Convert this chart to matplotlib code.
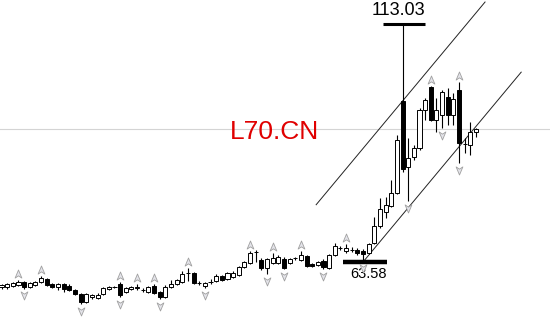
import matplotlib
matplotlib.use("Agg")
import matplotlib.pyplot as plt
import numpy as np
from matplotlib.patches import Rectangle
from matplotlib.path import Path

plt.rcParams["font.family"] = ["Liberation Sans", "DejaVu Sans"]

# daily OHLC
opens = [58.38, 58.38, 58.59, 58.80, 59.42, 58.38, 58.80, 59.42, 60.04, 59.00,
         58.38, 59.00, 58.59, 57.76, 56.93, 55.26, 56.30, 56.10, 56.93, 57.97,
         58.38, 59.00, 57.34, 57.97, 58.17, 57.76, 57.34, 58.59, 57.34, 56.30,
         58.38, 59.00, 59.42, 61.29, 61.29, 59.21, 58.59, 59.42, 59.63, 60.67,
         60.04, 60.46, 60.87, 62.54, 63.37, 65.65, 63.99, 62.33, 63.37, 63.37,
         64.20, 63.37, 64.41, 63.99, 64.82, 63.16, 62.95, 63.78, 62.33, 65.03,
         66.49, 65.86, 66.07, 66.07, 65.86, 65.45, 67.52, 71.06, 73.97, 75.21,
         77.91, 97.03, 83.32, 85.40, 87.27, 95.16, 99.94, 93.08, 94.12, 97.86,
         94.12, 99.32, 88.10, 87.89, 90.59]
highs = [59.00, 59.21, 59.42, 59.84, 59.63, 59.42, 59.63, 60.67, 60.25, 59.21,
         59.21, 59.21, 59.00, 57.97, 57.13, 57.13, 56.93, 57.13, 58.38, 58.59,
         58.59, 59.42, 58.38, 58.59, 59.00, 58.17, 58.59, 59.00, 57.55, 58.80,
         59.84, 60.04, 61.71, 62.33, 61.50, 59.63, 59.42, 60.04, 61.08, 60.87,
         61.50, 61.71, 62.75, 63.78, 65.86, 66.07, 64.41, 64.41, 65.45, 65.03,
         64.62, 64.41, 64.62, 65.86, 65.03, 63.37, 63.78, 64.20, 65.24, 67.52,
         66.90, 67.32, 66.69, 66.49, 66.28, 67.52, 72.93, 76.88, 77.08, 80.62,
         89.97, 113.03, 89.34, 87.89, 95.58, 97.66, 100.15, 97.66, 99.32, 99.73,
         98.69, 100.98, 89.34, 92.67, 91.42]
lows = [57.97, 57.97, 58.38, 58.59, 57.97, 58.17, 58.59, 59.21, 58.59, 58.17,
        57.76, 57.34, 57.55, 56.72, 54.85, 55.06, 55.89, 55.89, 56.72, 57.76,
        58.17, 56.30, 57.13, 57.76, 57.76, 57.34, 57.13, 56.93, 55.89, 56.10,
        58.17, 58.80, 59.21, 59.63, 59.00, 58.80, 58.17, 59.00, 59.42, 59.63,
        59.84, 60.25, 60.67, 62.33, 63.16, 63.58, 61.91, 61.08, 63.16, 63.16,
        62.12, 63.16, 63.99, 63.78, 62.54, 62.54, 62.75, 62.12, 62.12, 64.82,
        66.07, 65.45, 65.65, 65.03, 63.58, 65.24, 67.32, 70.64, 72.72, 75.01,
        77.71, 82.28, 76.25, 84.77, 86.85, 93.08, 92.88, 90.59, 91.42, 92.04,
        92.04, 84.15, 86.23, 85.81, 89.55]
closes = [58.80, 59.00, 59.21, 59.42, 58.38, 59.21, 59.42, 60.25, 58.80, 58.38,
          59.00, 57.97, 57.76, 56.93, 55.26, 56.93, 56.72, 56.72, 58.17, 58.38,
          58.40, 56.72, 58.17, 58.38, 58.38, 57.78, 58.38, 57.13, 56.30, 58.38,
          59.00, 59.84, 61.08, 61.32, 59.21, 59.24, 59.21, 59.45, 60.67, 59.84,
          61.29, 61.29, 62.54, 63.58, 65.45, 65.62, 62.33, 64.20, 64.41, 64.62,
          62.33, 64.20, 64.38, 65.03, 62.75, 62.75, 63.58, 62.54, 65.03, 66.90,
          66.46, 66.49, 66.04, 65.45, 65.24, 67.32, 71.06, 74.59, 75.42, 77.91,
          88.93, 82.90, 85.19, 87.27, 95.16, 97.24, 93.08, 95.16, 98.90, 94.12,
          97.45, 88.30, 88.13, 90.59, 91.21]

# fractal marks (bar indices)
up_fractals = [3, 7, 21, 24, 27, 33, 44, 48, 53, 61, 76, 81]
down_fractals = [4, 14, 21, 28, 36, 47, 50, 57, 64, 72, 78, 81]

# swing low the channel is anchored on, and the channel itself
low_idx = 64
lower_line = ([64, 92], [63.58, 103.03])
upper_line = ([55.7, 85.6], [75.48, 117.6])

title = "L70.CN"

opens, highs, lows, closes = map(np.asarray, (opens, highs, lows, closes))
n = len(closes)
x = np.arange(n)

fig = plt.figure(figsize=(5.5, 3.25), dpi=100)
ax = fig.add_axes([0, 0, 1, 1])
ax.set_xlim(-0.27, 97.1)
ax.set_ylim(50.49, 118.02)
ax.axis("off")

# last price line
ax.axhline(closes[-1], color="#d4d4d4", lw=0.8, zorder=0)

# candles
w = 0.72
ax.vlines(x, lows, highs, color="black", lw=0.8, zorder=2)
for i in range(n):
    o, c = opens[i], closes[i]
    bottom = min(o, c)
    h = max(abs(c - o), 0.08)
    face = "white" if c >= o else "black"
    ax.add_patch(Rectangle((i - w / 2, bottom), w, h, facecolor=face,
                           edgecolor="black", lw=0.7, zorder=3))

# fractal arrows
up_arrow = Path([(0, 1), (0.75, -0.8), (0, -0.3), (-0.75, -0.8), (0, 1)],
                [Path.MOVETO, Path.LINETO, Path.LINETO, Path.LINETO, Path.CLOSEPOLY])
down_arrow = Path([(0, -1), (0.75, 0.8), (0, 0.3), (-0.75, 0.8), (0, -1)],
                  [Path.MOVETO, Path.LINETO, Path.LINETO, Path.LINETO, Path.CLOSEPOLY])
off = 1.35
ax.scatter(up_fractals, highs[up_fractals] + off, marker=up_arrow, s=42,
           facecolor="#e4e4ea", edgecolor="#a0a0a0", lw=0.6, zorder=4)
ax.scatter(down_fractals, lows[down_fractals] - off, marker=down_arrow, s=42,
           facecolor="#e4e4ea", edgecolor="#a0a0a0", lw=0.6, zorder=4)

# channel
ax.plot(*lower_line, color="#222222", lw=0.7, zorder=1)
ax.plot(*upper_line, color="#222222", lw=0.7, zorder=1)

# high / low marks
hi_idx = int(np.argmax(highs))
ax.hlines(highs[hi_idx], hi_idx - 3.5, hi_idx + 3.9, color="black", lw=2.2, zorder=5)
ax.annotate(f"{highs[hi_idx]:.2f}", xy=(hi_idx, highs[hi_idx]), xytext=(-4, 5),
            textcoords="offset pixels", ha="center", va="bottom", fontsize=13)
ax.hlines(lows[low_idx], low_idx - 3.5, low_idx + 4.3, color="black", lw=3.2, zorder=5)
ax.annotate(f"{lows[low_idx]:.2f}", xy=(low_idx, lows[low_idx]), xytext=(5, -5),
            textcoords="offset pixels", ha="center", va="top", fontsize=10.5)

ax.text(0.5, 0.594, title, transform=ax.transAxes, ha="center", va="center",
        color="#e00000", fontsize=19)

fig.savefig("out.png", dpi=100, facecolor="white")
